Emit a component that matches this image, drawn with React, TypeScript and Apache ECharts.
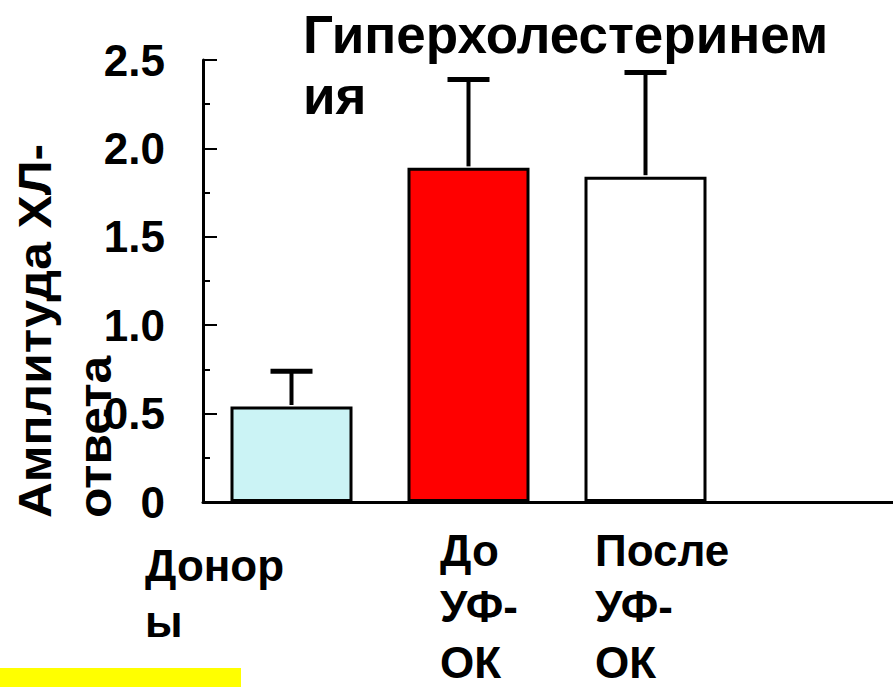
import React, { useEffect, useRef } from "react";
import * as echarts from "echarts";

const categories = ["Донор\nы", "До\nУФ-\nОК", "После\nУФ-\nОК", ""];
const means = [0.54, 1.89, 1.84];
const errorTops = [0.74, 2.39, 2.43];
const barColors = ["#CBF3F5", "#FF0000", "#FFFFFF"];
const titleText = "Гиперхолестеринем\nия";
const yName = "Амплитуда ХЛ-\nответа";

const FONT = "'Liberation Sans', Arial, sans-serif";

export default function App() {
  const ref = useRef<HTMLDivElement>(null);
  useEffect(() => {
    if (!ref.current) return;
    const chart = echarts.init(ref.current, undefined, { renderer: "svg" });
    const labelWidths = [293, 57, 101, 10];
    const rich: any = {};
    labelWidths.forEach((w, i) => {
      rich["c" + i] = {
        width: w,
        align: "left",
        fontSize: 44,
        fontWeight: "bold",
        fontFamily: FONT,
        color: "#000",
        lineHeight: 56,
      };
    });
    chart.setOption({
      animation: false,
      backgroundColor: "#fff",
      title: {
        text: titleText,
        left: 303,
        top: 4,
        padding: 0,
        textStyle: {
          fontSize: 53,
          fontWeight: "bold",
          fontFamily: FONT,
          color: "#000",
          lineHeight: 61,
        },
      },
      grid: {
        left: 203,
        top: 60,
        width: 708,
        height: 442,
        containLabel: false,
        outerBoundsMode: "none",
      },
      xAxis: {
        type: "category",
        data: categories.map((c, i) =>
          i === 0 ? { value: c, textStyle: { padding: [15, 0, 0, 0] } } : c
        ),
        axisLine: { show: true, lineStyle: { color: "#000", width: 3 } },
        axisTick: { show: false },
        axisLabel: {
          interval: 0,
          margin: 20,
          align: "center",
          verticalAlign: "top",
          formatter: (v: string, i: number) =>
            v
              .split("\n")
              .map((l) => `{c${i}|${l}}`)
              .join("\n"),
          rich,
        },
        splitLine: { show: false },
      },
      yAxis: {
        type: "value",
        min: 0,
        max: 2.5,
        interval: 0.5,
        axisLine: { show: true, lineStyle: { color: "#000", width: 3 } },
        axisTick: { show: true, inside: true, length: 14, lineStyle: { color: "#000", width: 2 } },
        minorTick: { show: true, splitNumber: 2, length: 7, lineStyle: { color: "#000", width: 2 } },
        splitLine: { show: false },
        axisLabel: {
          margin: 38,
          fontSize: 44,
          fontWeight: "bold",
          fontFamily: FONT,
          color: "#000",
          formatter: (v: number) => (v === 0 ? "0" : v.toFixed(1)),
        },
      },
      graphic: [
        {
          type: "text",
          x: 5,
          y: 518,
          rotation: Math.PI / 2,
          scaleX: 1.08,
          style: {
            text: yName,
            fontSize: 46,
            fontWeight: "bold",
            fontFamily: FONT,
            fill: "#000",
            lineHeight: 60,
            align: "left",
            verticalAlign: "top",
          },
        },
        {
          type: "rect",
          shape: { x: 0, y: 668, width: 241, height: 19 },
          style: { fill: "#FFFF00" },
        },
      ],
      series: [
        {
          type: "bar",
          barWidth: 122,
          data: means.map((v, i) => ({
            value: v,
            itemStyle: { color: barColors[i], borderColor: "#000", borderWidth: 3 },
          })),
          z: 2,
        },
        {
          type: "custom",
          z: 3,
          data: means.map((v, i) => [i, v, errorTops[i]]),
          renderItem: (params: any, api: any) => {
            const base = api.coord([api.value(0), api.value(1)]);
            const top = api.coord([api.value(0), api.value(2)]);
            const half = 21;
            return {
              type: "group",
              children: [
                {
                  type: "line",
                  shape: { x1: base[0], y1: base[1] - 1.5, x2: top[0], y2: top[1] },
                  style: { stroke: "#000", lineWidth: 4 },
                },
                {
                  type: "line",
                  shape: { x1: top[0] - half, y1: top[1], x2: top[0] + half, y2: top[1] },
                  style: { stroke: "#000", lineWidth: 5 },
                },
              ],
            };
          },
        },
      ],
    });
    return () => chart.dispose();
  }, []);
  return <div ref={ref} style={{ width: 893, height: 687, position: "absolute", left: 0, top: 0 }} />;
}
